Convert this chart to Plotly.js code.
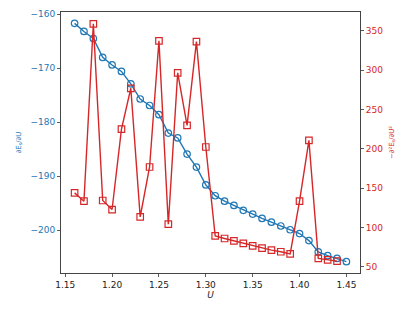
<!DOCTYPE html>
<html>
<head>
<meta charset="utf-8">
<script src="https://cdn.plot.ly/plotly-3.0.1.min.js"></script>
<style>html,body{margin:0;padding:0;background:#fff;}#chart{width:415px;height:311px;}</style>
</head>
<body>
<div id="chart"></div>
<script>
const U_first = [1.16,1.17,1.18,1.19,1.20,1.21,1.22,1.23,1.24,1.25,1.26,1.27,1.28,1.29,1.30,1.31,1.32,1.33,1.34,1.35,1.36,1.37,1.38,1.39,1.40,1.41,1.42,1.43,1.44,1.45];
const dE = [-161.7,-163.2,-164.5,-168.0,-169.4,-170.6,-172.9,-175.7,-176.9,-178.6,-182.0,-182.9,-185.9,-188.3,-191.6,-193.6,-194.6,-195.4,-196.3,-197.0,-197.8,-198.5,-199.2,-199.9,-200.6,-201.9,-204.0,-204.7,-205.2,-205.8];
const U_second = [1.16,1.17,1.18,1.19,1.20,1.21,1.22,1.23,1.24,1.25,1.26,1.27,1.28,1.29,1.30,1.31,1.32,1.33,1.34,1.35,1.36,1.37,1.38,1.39,1.40,1.41,1.42,1.43,1.44];
const d2E = [144,133.4,358.9,134.3,122.8,225.1,277,113.5,176.9,337.3,104.2,296.7,229.8,336.4,202.3,89.3,86.0,83.0,79.7,76.7,73.7,71.2,69.1,66.5,133.4,210.8,60.7,58.9,57.2];
const xTicks = [1.15,1.20,1.25,1.30,1.35,1.40,1.45];
const leftTicks = [-160,-170,-180,-190,-200];
const rightTicks = [50,100,150,200,250,300,350];

const blue = '#1f77b4', red = '#d62728';
const traces = [
  {x: U_first, y: dE, type: 'scatter', mode: 'lines+markers', yaxis: 'y',
   line: {color: blue, width: 1.4},
   marker: {symbol: 'circle-open', size: 6.5, color: blue, line: {width: 1.2}}},
  {x: U_second, y: d2E, type: 'scatter', mode: 'lines+markers', yaxis: 'y2',
   line: {color: red, width: 1.4},
   marker: {symbol: 'square-open', size: 6.5, color: red, line: {width: 1.2}}}
];
const font = {family: 'DejaVu Sans', size: 9, color: '#222'};
const layout = {
  width: 415, height: 311,
  margin: {l: 61, r: 55, t: 12, b: 38, pad: 0},
  paper_bgcolor: '#fff', plot_bgcolor: '#fff',
  showlegend: false,
  font: font,
  xaxis: {range: [1.1455, 1.4645], tickvals: xTicks, ticktext: xTicks.map(v => v.toFixed(2)),
    ticks: 'outside', ticklen: 3, tickwidth: 0.8, tickcolor: '#333',
    showline: true, linecolor: '#444', linewidth: 1, mirror: true, showgrid: false, zeroline: false,
    tickfont: {family: 'DejaVu Sans', size: 9, color: '#222'},
    title: {text: '<i>U</i>', font: {family: 'DejaVu Sans', size: 9, color: '#222'}, standoff: 2}},
  yaxis: {range: [-207.9, -159.6], tickvals: leftTicks, ticktext: leftTicks.map(v => '\u2212' + Math.abs(v)),
    ticks: 'outside', ticklen: 3, tickwidth: 0.8, tickcolor: '#333',
    showline: true, linecolor: '#444', linewidth: 1, showgrid: false, zeroline: false,
    tickfont: {family: 'DejaVu Sans', size: 9, color: blue},
    title: {text: '\u2202E<sub>s</sub>/\u2202U', font: {family: 'DejaVu Sans', size: 7, color: blue}, standoff: 8}},
  yaxis2: {overlaying: 'y', side: 'right', range: [42.1, 374.0], tickvals: rightTicks,
    ticks: 'outside', ticklen: 3, tickwidth: 0.8, tickcolor: '#333',
    showline: true, linecolor: '#444', linewidth: 1, showgrid: false, zeroline: false,
    tickfont: {family: 'DejaVu Sans', size: 9, color: red},
    title: {text: '\u2212\u2202\u00b2E<sub>s</sub>/\u2202U\u00b2', font: {family: 'DejaVu Sans', size: 7, color: red}, standoff: 6}}
};
Plotly.newPlot('chart', traces, layout, {displayModeBar: false, staticPlot: true});
</script>
</body>
</html>
